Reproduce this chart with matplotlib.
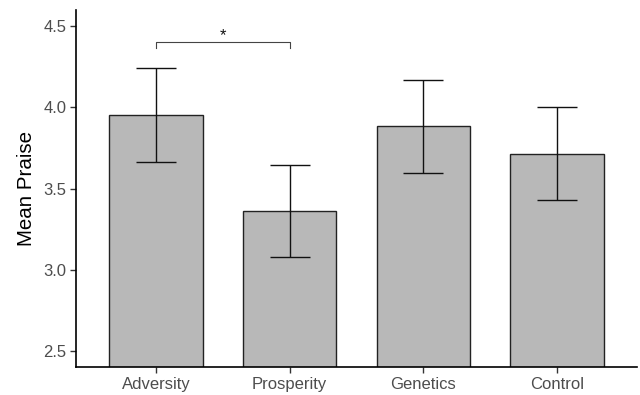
import matplotlib
matplotlib.use("Agg")
import matplotlib.pyplot as plt

# group means and error bar limits
groups = ["Adversity", "Prosperity", "Genetics", "Control"]
means = [3.955, 3.362, 3.883, 3.713]
lower = [3.667, 3.078, 3.597, 3.428]
upper = [4.243, 3.644, 4.167, 4.000]
yticks = [2.5, 3.0, 3.5, 4.0, 4.5]

# significance bracket between Adversity and Prosperity
sig_pair = (0, 1)
sig_y = 4.403
sig_tip = 4.368
sig_label = "*"

plt.rcParams["font.family"] = ["Liberation Sans", "DejaVu Sans"]

fig = plt.figure(figsize=(6.4, 3.95), dpi=100)
ax = fig.add_axes([76 / 640, 1 - 367.3 / 395, (637 - 76) / 640, (367.3 - 10) / 395])

x = list(range(1, len(groups) + 1))
ax.bar(x, means, width=0.7, color="#b8b8b8", edgecolor="#222222", linewidth=1.0, zorder=2)

# error bars drawn as lines in data units
ax.vlines(x, lower, upper, color="#111111", linewidth=1.0, zorder=3)
ax.hlines(lower, [i - 0.15 for i in x], [i + 0.15 for i in x], color="#111111", linewidth=1.0, zorder=3)
ax.hlines(upper, [i - 0.15 for i in x], [i + 0.15 for i in x], color="#111111", linewidth=1.0, zorder=3)

# bracket
x1, x2 = x[sig_pair[0]], x[sig_pair[1]]
ax.plot([x1, x1, x2, x2], [sig_tip, sig_y, sig_y, sig_tip], color="#444444", linewidth=0.8, zorder=3)
ax.text((x1 + x2) / 2, sig_y - 0.005, sig_label, ha="center", va="bottom", fontsize=12, color="#111111")

ax.set_xlim(0.4, 4.6)
ax.set_ylim(2.4, 4.6)
ax.set_xticks(x)
ax.set_xticklabels(groups)
ax.set_yticks(yticks)
ax.set_yticklabels([f"{v:.1f}" for v in yticks])
ax.set_ylabel("Mean Praise", fontsize=14.8, color="black", labelpad=5)

for side in ["top", "right"]:
    ax.spines[side].set_visible(False)
for side in ["left", "bottom"]:
    ax.spines[side].set_linewidth(1.2)
    ax.spines[side].set_color("black")
ax.tick_params(axis="both", length=4, width=1, color="#333333", labelsize=12, labelcolor="#4d4d4d", pad=3)

plt.savefig("out.png", dpi=100)
